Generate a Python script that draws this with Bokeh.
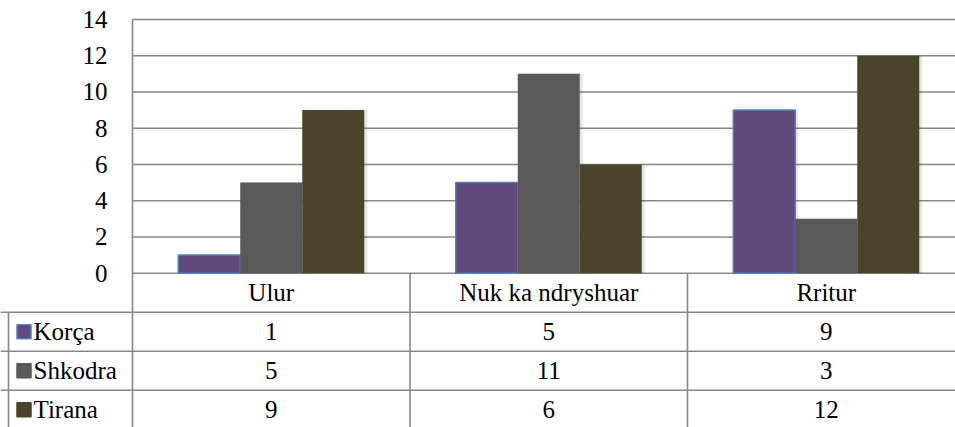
from bokeh.plotting import figure
from bokeh.models import Range1d, ColumnDataSource
from bokeh.embed import file_html
from bokeh.resources import INLINE
from bokeh.core.properties import value

# ---------------- data ----------------
categories = ["Ulur", "Nuk ka ndryshuar", "Rritur"]
series_names = ["Korça", "Shkodra", "Tirana"]
korca = [1, 5, 9]
shkodra = [5, 11, 3]
tirana = [9, 6, 12]
y_ticks = [0, 2, 4, 6, 8, 10, 12, 14]
y_tick_labels = ["0", "2", "4", "6", "8", "10", "12", "14"]

series_values = [korca, shkodra, tirana]
fill_colors = ["#5F4A7B", "#595959", "#4A442A"]
edge_colors = ["#4F81BD", None, None]

# ---------------- layout constants ----------------
FONT = value("Liberation Serif")
FS = "25px"
W, H = 955, 427
CAT_PX = 277.5          # pixels per category
LEFT_PX = 132           # chart area left edge in px
TOP_PX = 19             # value 14 in px
ZERO_PX = 272.7         # value 0 in px
UNIT_PX = (ZERO_PX - TOP_PX) / 14.0
ROW_PX = 39.0

X_START = -LEFT_PX / CAT_PX
X_END = (W - LEFT_PX) / CAT_PX
Y_TOP = ZERO_PX / UNIT_PX
Y_BOTTOM = -(H - ZERO_PX) / UNIT_PX
ROWS_TOP = ZERO_PX / ROW_PX
ROWS_BOTTOM = -(H - ZERO_PX) / ROW_PX

BAR_W = 62 / CAT_PX
GRID_COLOR = "#878787"

p = figure(width=W, height=H, output_backend="svg", toolbar_location=None,
           title=None, x_axis_location=None, y_axis_location=None,
           min_border_left=0, min_border_right=0, min_border_top=0,
           min_border_bottom=0, outline_line_color=None,
           x_range=Range1d(X_START, X_END), y_range=Range1d(Y_BOTTOM, Y_TOP))
p.extra_y_ranges = {"rows": Range1d(ROWS_BOTTOM, ROWS_TOP)}
p.grid.visible = False
p.background_fill_color = "white"
p.border_fill_color = "white"

# horizontal gridlines of the chart area
p.segment(x0=[0] * len(y_ticks), x1=[X_END + 0.1] * len(y_ticks),
          y0=y_ticks, y1=y_ticks, line_color=GRID_COLOR, line_width=1.6)

# y tick labels
tick_x = -25 / CAT_PX
p.text(x=[tick_x] * len(y_ticks), y=y_ticks, text=y_tick_labels,
       text_align="right", text_baseline="middle", text_font=FONT,
       text_font_size=FS, text_color="black")

# bars (with a soft shadow)
n = len(categories)
shadow = 3 / CAT_PX
for i, (vals, fc, ec) in enumerate(zip(series_values, fill_colors, edge_colors)):
    xs = [c + 0.5 + (i - 1) * BAR_W for c in range(n)]
    src = ColumnDataSource(dict(x=xs, top=vals))
    p.vbar(x=[x + shadow for x in xs], top=vals, bottom=0, width=BAR_W,
           fill_color="black", fill_alpha=0.10, line_color=None)
    p.vbar(x="x", top="top", bottom=0, width=BAR_W, source=src,
           fill_color=fc, line_color=ec, line_width=1.5 if ec else 0)

# ---------------- data table ----------------
p.segment(x0=[X_START] * 4, x1=[X_END + 0.1] * 4, y0=[-1, -2, -3, -4],
          y1=[-1, -2, -3, -4], y_range_name="rows",
          line_color=GRID_COLOR, line_width=1.6)
p.segment(x0=[0], x1=[0], y0=[max(y_ticks)], y1=[Y_BOTTOM],
          line_color=GRID_COLOR, line_width=1.6)
p.segment(x0=[1, 2], x1=[1, 2], y0=[0, 0], y1=[-4.5, -4.5], y_range_name="rows",
          line_color=GRID_COLOR, line_width=1.6)
left_border = X_START + 8 / CAT_PX
p.segment(x0=[left_border], x1=[left_border], y0=[-1], y1=[-4.5],
          y_range_name="rows", line_color=GRID_COLOR, line_width=1.6)

# category header row
p.text(x=[c + 0.5 for c in range(n)], y=[-0.5] * n, text=categories,
       y_range_name="rows", text_align="center", text_baseline="middle",
       text_font=FONT, text_font_size=FS, text_color="black")

# series rows: legend key, name and values
key_x = X_START + 23.5 / CAT_PX
name_x = X_START + 33 / CAT_PX
for i, (name, vals, fc, ec) in enumerate(zip(series_names, series_values,
                                             fill_colors, edge_colors)):
    ry = -(i + 1) - 0.5
    p.rect(x=[key_x], y=[ry], width=14, height=14, width_units="screen",
           height_units="screen", y_range_name="rows", fill_color=fc,
           line_color=ec if ec else fc, line_width=1.5)
    p.text(x=[name_x], y=[ry], text=[name], y_range_name="rows",
           text_align="left", text_baseline="middle", text_font=FONT,
           text_font_size=FS, text_color="black")
    p.text(x=[c + 0.5 for c in range(n)], y=[ry] * n,
           text=[str(v) for v in vals], y_range_name="rows",
           text_align="center", text_baseline="middle", text_font=FONT,
           text_font_size=FS, text_color="black")

open("out.html", "w").write(file_html(p, INLINE))
